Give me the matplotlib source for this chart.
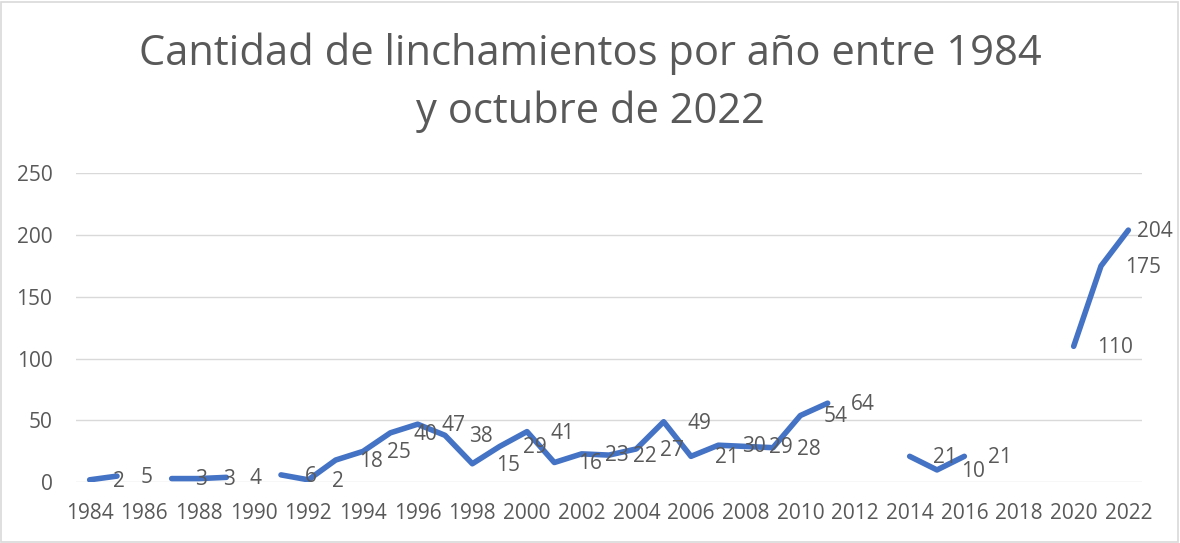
import matplotlib
matplotlib.use("Agg")
import matplotlib.pyplot as plt
from matplotlib.patches import Rectangle
import numpy as np

# ── Data ──────────────────────────────────────────────────────────────────────
years = list(range(1984, 2023))
nan = np.nan
linchamientos = [2, 5, nan, 3, 3, 4, nan, 6, 2, 18,
                 25, 40, 47, 38, 15, 29, 41, 16, 23, 22,
                 27, 49, 21, 30, 29, 28, 54, 64, nan, nan,
                 21, 10, 21, nan, nan, nan, 110, 175, 204]
tick_years = years[::2]
y_ticks = [0, 50, 100, 150, 200, 250]

# ── Style ─────────────────────────────────────────────────────────────────────
BLUE = "#4472C4"
TEXT = "#595959"
GRID = "#D9D9D9"
plt.rcParams["font.family"] = ["Open Sans", "DejaVu Sans"]

fig = plt.figure(figsize=(11.8, 5.43), dpi=100)
fig.patch.set_facecolor("white")
ax = fig.add_axes([0.0644, 0.1118, 0.9034, 0.5691])

idx = np.arange(len(years))
ax.plot(idx, linchamientos, color=BLUE, lw=4.0, solid_capstyle="round",
        solid_joinstyle="round", zorder=3)

# data labels to the right of each point
last = len(years) - 1
for i, v in enumerate(linchamientos):
    if np.isnan(v):
        continue
    dx = 17 if i < last else 6
    ax.annotate(f"{int(v)}", xy=(i, v), xytext=(dx, -1), textcoords="offset points",
                ha="left", va="center", fontsize=15, color=TEXT, zorder=4)

ax.set_xlim(-0.5, len(years) - 0.5)
ax.set_ylim(0, 250)
ax.set_xticks([years.index(y) for y in tick_years])
ax.set_xticklabels([str(y) for y in tick_years])
ax.set_yticks(y_ticks)
ax.tick_params(axis="x", length=0, pad=15, labelsize=15, labelcolor=TEXT)
ax.tick_params(axis="y", length=0, pad=17, labelsize=15, labelcolor=TEXT)
ax.grid(axis="y", color=GRID, lw=1.0)
ax.set_axisbelow(True)
for s in ax.spines.values():
    s.set_visible(False)

# ── Title ─────────────────────────────────────────────────────────────────────
fig.text(0.5, 1 - 54 / 543, "Cantidad de linchamientos por año entre 1984",
         ha="center", va="center", fontsize=30, color=TEXT)
fig.text(0.5, 1 - 112 / 543, "y octubre de 2022",
         ha="center", va="center", fontsize=30, color=TEXT)

# chart border
fig.patches.append(Rectangle((0.001, 0.001), 0.997, 0.995, transform=fig.transFigure,
                             fill=False, edgecolor=GRID, lw=1.2))

fig.savefig("out.png", dpi=100, facecolor="white")
